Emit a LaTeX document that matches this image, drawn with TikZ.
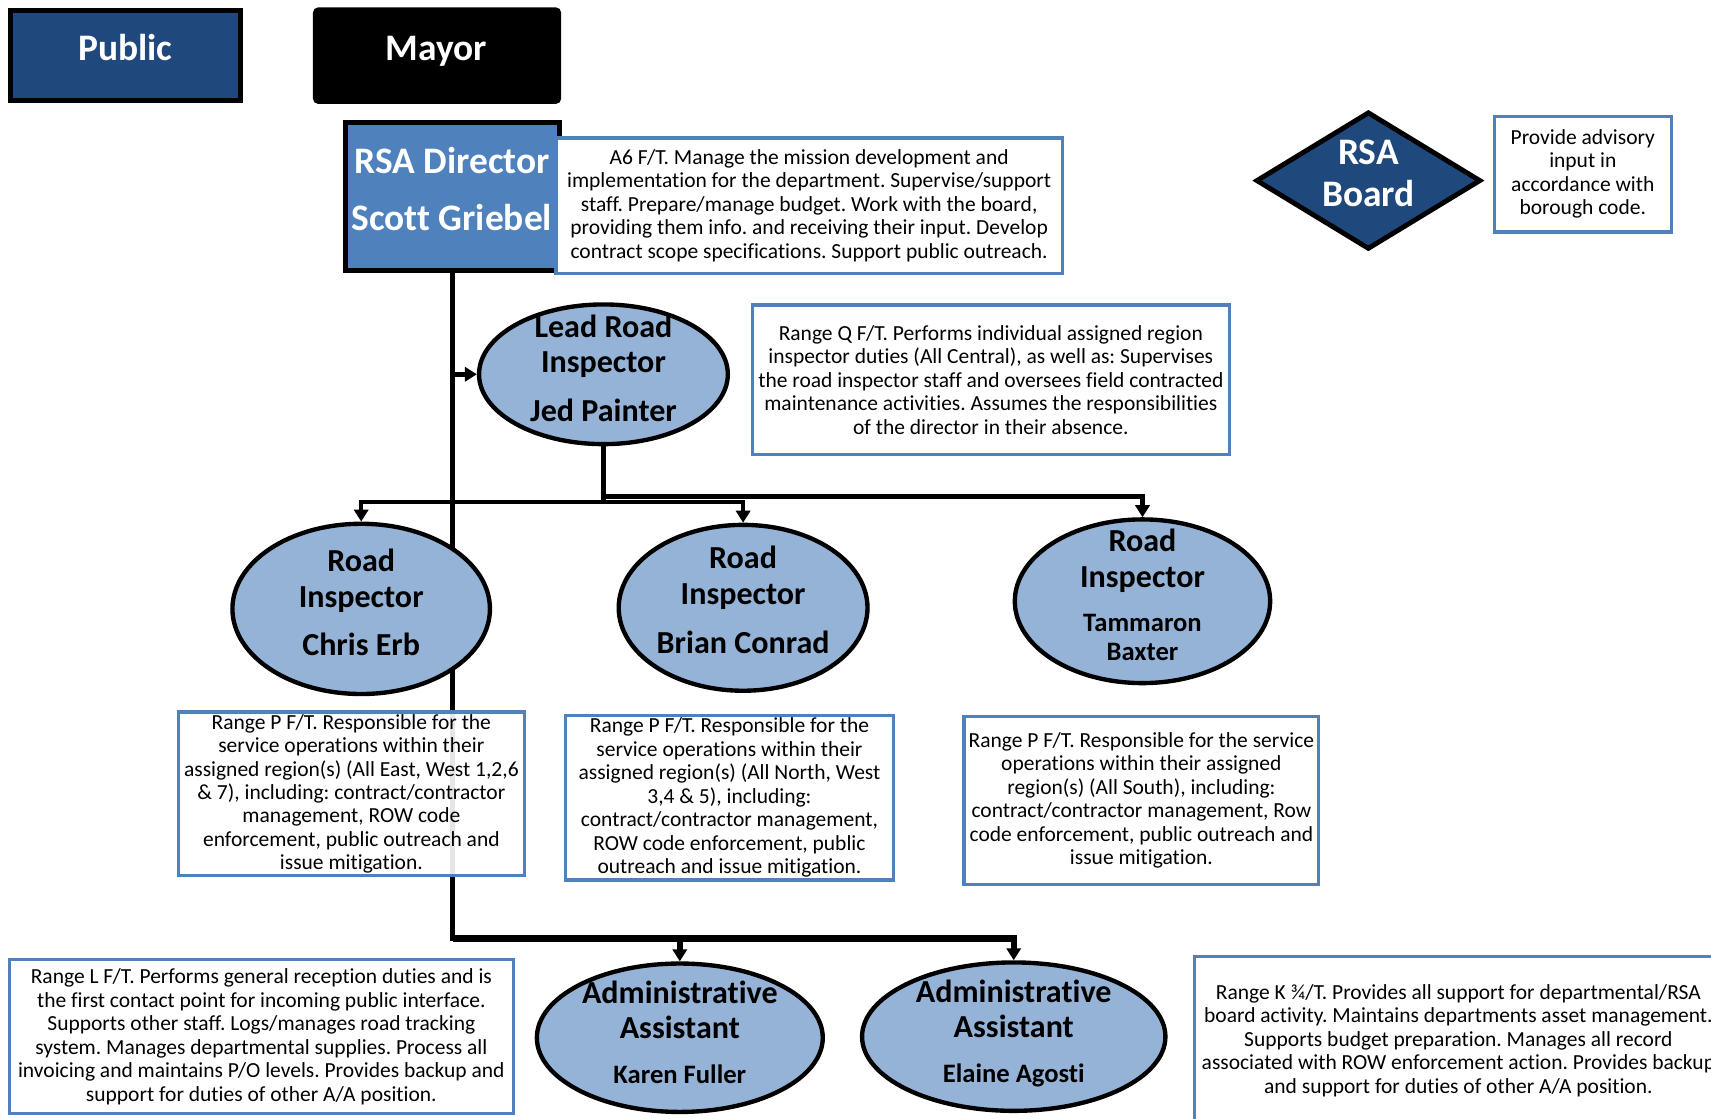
\documentclass[tikz,border=0pt]{standalone}
\usepackage{fontspec}
\setmainfont{Carlito}[Ligatures={NoCommon}]
\usetikzlibrary{shapes.geometric,arrows.meta,backgrounds}
\definecolor{darkblue}{RGB}{31,73,125}
\definecolor{midblue}{RGB}{79,129,189}
\definecolor{lightblue}{RGB}{149,179,215}
\tikzset{
  ln/.style={line width=4pt, black, line join=miter},
  arr/.style={ln, -{Triangle[width=13pt,length=11pt]}},
  desc/.style={rectangle, draw=midblue, line width=3pt, fill=white, align=center, inner sep=0pt, font=\frenchspacing\fontsize{19.7}{21.5}\selectfont},
  ell/.style={ellipse, draw=black, line width=4pt, fill=lightblue, inner sep=0pt},
  etext/.style={anchor=base, font=\bfseries\fontsize{29.4}{33}\selectfont},
  ntext/.style={anchor=base, font=\bfseries\fontsize{24.4}{28}\selectfont},
  ttext/.style={anchor=base, text=white, font=\bfseries\fontsize{34.3}{38}\selectfont},
  tbox/.style={rectangle, draw=black, line width=4.5pt, inner sep=0pt},
}
\begin{document}
\begin{tikzpicture}[x=1pt,y=-1pt]
\useasboundingbox (0,0) rectangle (1568,1025);

% top boxes
\node[tbox, fill=darkblue, minimum width=211pt, minimum height=83pt] (public) at (115,51) {};
\node[ttext] (publicT) at (115,55) {Public};
\node[tbox, fill=black, rounded corners=3pt, minimum width=223pt, minimum height=84pt] (mayor) at (400.5,51) {};
\node[ttext] (mayorT) at (400,55) {Mayor};

% director
\node[tbox, fill=midblue, minimum width=196pt, minimum height=136pt] (director) at (415,180) {};
\node[ttext] (dirT1) at (414.5,159) {RSA Director};
\node[ttext] (dirT2) at (414,211) {Scott Griebel};
\node[desc, minimum width=464pt, minimum height=124pt] (descA) at (741.5,188.5) {A6 F/T. Manage the mission development and\\implementation for the department. Supervise/support\\staff. Prepare/manage budget. Work with the board,\\providing them info. and receiving their input. Develop\\contract scope specifications. Support public outreach.};

% board
\node[diamond, draw=black, line width=4.5pt, fill=darkblue, inner sep=0pt, minimum width=206pt, minimum height=126pt] (board) at (1254,165.5) {};
\node[ttext] (boardT1) at (1254,151) {RSA};
\node[ttext] (boardT2) at (1254,189) {Board};
\node[desc, minimum width=162pt, minimum height=106pt] (descB) at (1450.5,159.5) {Provide advisory\\input in\\accordance with\\borough code.};

% lead
\node[ell, minimum width=228pt, minimum height=128pt] (lead) at (553,343) {};
\node[etext] (leadT1) at (553,309) {Lead Road};
\node[etext] (leadT2) at (553,341) {Inspector};
\node[etext] (leadT3) at (553,386) {Jed Painter};
\node[desc, minimum width=437pt, minimum height=137pt] (descQ) at (908,348) {Range Q F/T. Performs individual assigned region\\inspector duties (All Central), as well as: Supervises\\the road inspector staff and oversees field contracted\\maintenance activities. Assumes the responsibilities\\of the director in their absence.};

% inspectors
\node[ell, minimum width=236pt, minimum height=156pt] (chris) at (331,558) {};
\node[etext] (chrisT1) at (331,524) {Road};
\node[etext] (chrisT2) at (331,557) {Inspector};
\node[etext] (chrisT3) at (331,601) {Chris Erb};

\node[ell, minimum width=228pt, minimum height=152pt] (brian) at (681,557) {};
\node[etext] (brianT1) at (681,521) {Road};
\node[etext] (brianT2) at (681,554) {Inspector};
\node[etext] (brianT3) at (681,599) {Brian Conrad};

\node[ell, minimum width=234pt, minimum height=150pt] (tamm) at (1047,551) {};
\node[etext] (tammT1) at (1047,505) {Road};
\node[etext] (tammT2) at (1047,538) {Inspector};
\node[ntext] (tammT3) at (1047,579) {Tammaron};
\node[ntext] (tammT4) at (1047,605) {Baxter};

\node[desc, fill opacity=0.9, text opacity=1, minimum width=317pt, minimum height=150pt] (descP1) at (322,727.5) {Range P F/T. Responsible for the\\service operations within their\\assigned region(s) (All East, West 1,2,6\\\& 7), including: contract/contractor\\management, ROW code\\enforcement, public outreach and\\issue mitigation.};
\node[desc, minimum width=300pt, minimum height=151pt] (descP2) at (668.5,731) {Range P F/T. Responsible for the\\service operations within their\\assigned region(s) (All North, West\\3,4 \& 5), including:\\contract/contractor management,\\ROW code enforcement, public\\outreach and issue mitigation.};
\node[desc, minimum width=325pt, minimum height=154pt] (descP3) at (1046,733.5) {Range P F/T. Responsible for the service\\operations within their assigned\\region(s) (All South), including:\\contract/contractor management, Row\\code enforcement, public outreach and\\issue mitigation.};

% admins
\node[ell, minimum width=262pt, minimum height=136pt] (karen) at (623,951) {};
\node[etext] (karenT1) at (623,920) {Administrative};
\node[etext] (karenT2) at (623,952) {Assistant};
\node[ntext] (karenT3) at (623,993) {Karen Fuller};

\node[ell, minimum width=278pt, minimum height=136pt] (elaine) at (929,950) {};
\node[etext] (elaineT1) at (929,919) {Administrative};
\node[etext] (elaineT2) at (929,951) {Assistant};
\node[ntext] (elaineT3) at (929,992) {Elaine Agosti};

\node[desc, minimum width=462pt, minimum height=141pt] (descL) at (239.5,950) {Range L F/T. Performs general reception duties and is\\the first contact point for incoming public interface.\\Supports other staff. Logs/manages road tracking\\system. Manages departmental supplies. Process all\\invoicing and maintains P/O levels. Provides backup and\\support for duties of other A/A position.};
\node[desc, minimum width=484pt, minimum height=154pt] (descK) at (1336.5,953.5) {Range K ¾/T. Provides all support for departmental/RSA\\board activity. Maintains departments asset management.\\Supports budget preparation. Manages all record\\associated with ROW enforcement action. Provides backup\\and support for duties of other A/A position.};

% connectors
\coordinate (jLead) at (415,343);
\coordinate (jAdmin) at (415,860);
\coordinate (lh) at (553,460);
\coordinate (lh2) at (553,455);
\begin{scope}[on background layer]
\draw[ln, line width=4.6pt, line cap=rect] (director.south) -- (jAdmin);
\draw[arr, line width=4.6pt] (jLead) -- (lead.west);
\draw[arr, line width=5.8pt] (jAdmin) -| (karen.north);
\draw[arr, line width=5.8pt] (jAdmin) -| (elaine.north);
\draw[ln] (lead.south) -- (lh);
\draw[arr] (lh) -| (chris.north);
\draw[arr] (lh) -| (brian.north);
\draw[arr] (lh2) -| (tamm.north);
\end{scope}
\end{tikzpicture}
\end{document}
